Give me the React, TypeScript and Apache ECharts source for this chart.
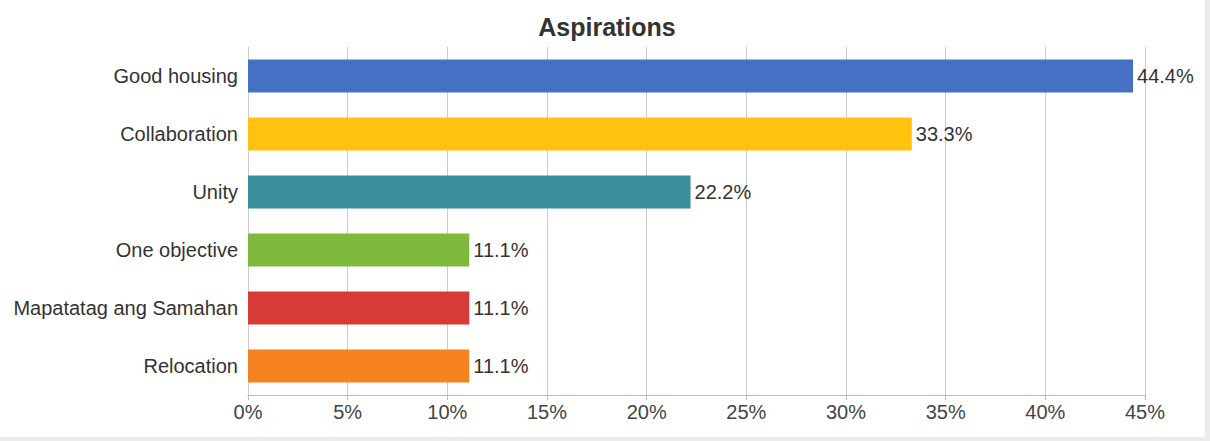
import React, { useEffect, useRef } from "react";
import * as echarts from "echarts";

const categories = ["Good housing", "Collaboration", "Unity", "One objective", "Mapatatag ang Samahan", "Relocation"];
const values = [44.4, 33.3, 22.2, 11.1, 11.1, 11.1];
const colors = ["#4571C4", "#FFC20E", "#3B8E9C", "#7DBA3C", "#D63B37", "#F5821E"];
const title = "Aspirations";

export default function App() {
  const ref = useRef<HTMLDivElement>(null);
  useEffect(() => {
    if (!ref.current) return;
    const chart = echarts.init(ref.current, null, { renderer: "svg" });
    const font = "'Liberation Sans', Arial, Helvetica, sans-serif";
    chart.setOption({
      animation: false,
      backgroundColor: "#ffffff",
      title: {
        text: title,
        left: 602,
        textAlign: "center",
        top: 9,
        textStyle: { fontFamily: font, fontSize: 25, fontWeight: "bold", color: "#333333" },
      },
      graphic: [
        { type: "rect", shape: { x: 1205, y: 0, width: 5, height: 441 }, style: { fill: "#ebebeb" } },
        { type: "rect", shape: { x: 0, y: 437, width: 1210, height: 4 }, style: { fill: "#ebebeb" } },
      ],
      grid: { left: 248, right: 65, top: 47, bottom: 46, containLabel: false },
      xAxis: {
        type: "value",
        min: 0,
        max: 45,
        interval: 5,
        axisLabel: { formatter: "{value}%", fontFamily: font, fontSize: 20, color: "#444444", margin: 7 },
        axisLine: { show: true, lineStyle: { color: "#bbbbbb" } },
        axisTick: { show: true, length: 5, lineStyle: { color: "#bbbbbb" } },
        splitLine: { show: true, lineStyle: { color: "#cccccc" } },
      },
      yAxis: {
        type: "category",
        data: categories,
        inverse: true,
        axisLabel: { fontFamily: font, fontSize: 20, color: "#333333", margin: 10 },
        axisLine: { show: false },
        axisTick: { show: false },
      },
      series: [
        {
          type: "bar",
          data: values.map((v, i) => ({ value: v, itemStyle: { color: colors[i] } })),
          barWidth: "57%",
          label: {
            show: true,
            position: "right",
            distance: 4,
            formatter: (p: any) => p.value + "%",
            fontFamily: font,
            fontSize: 20,
            color: "#333333",
          },
        },
      ],
    });
    return () => chart.dispose();
  }, []);
  return <div ref={ref} style={{ width: 1210, height: 441, position: "absolute", left: 0, top: 0 }} />;
}
